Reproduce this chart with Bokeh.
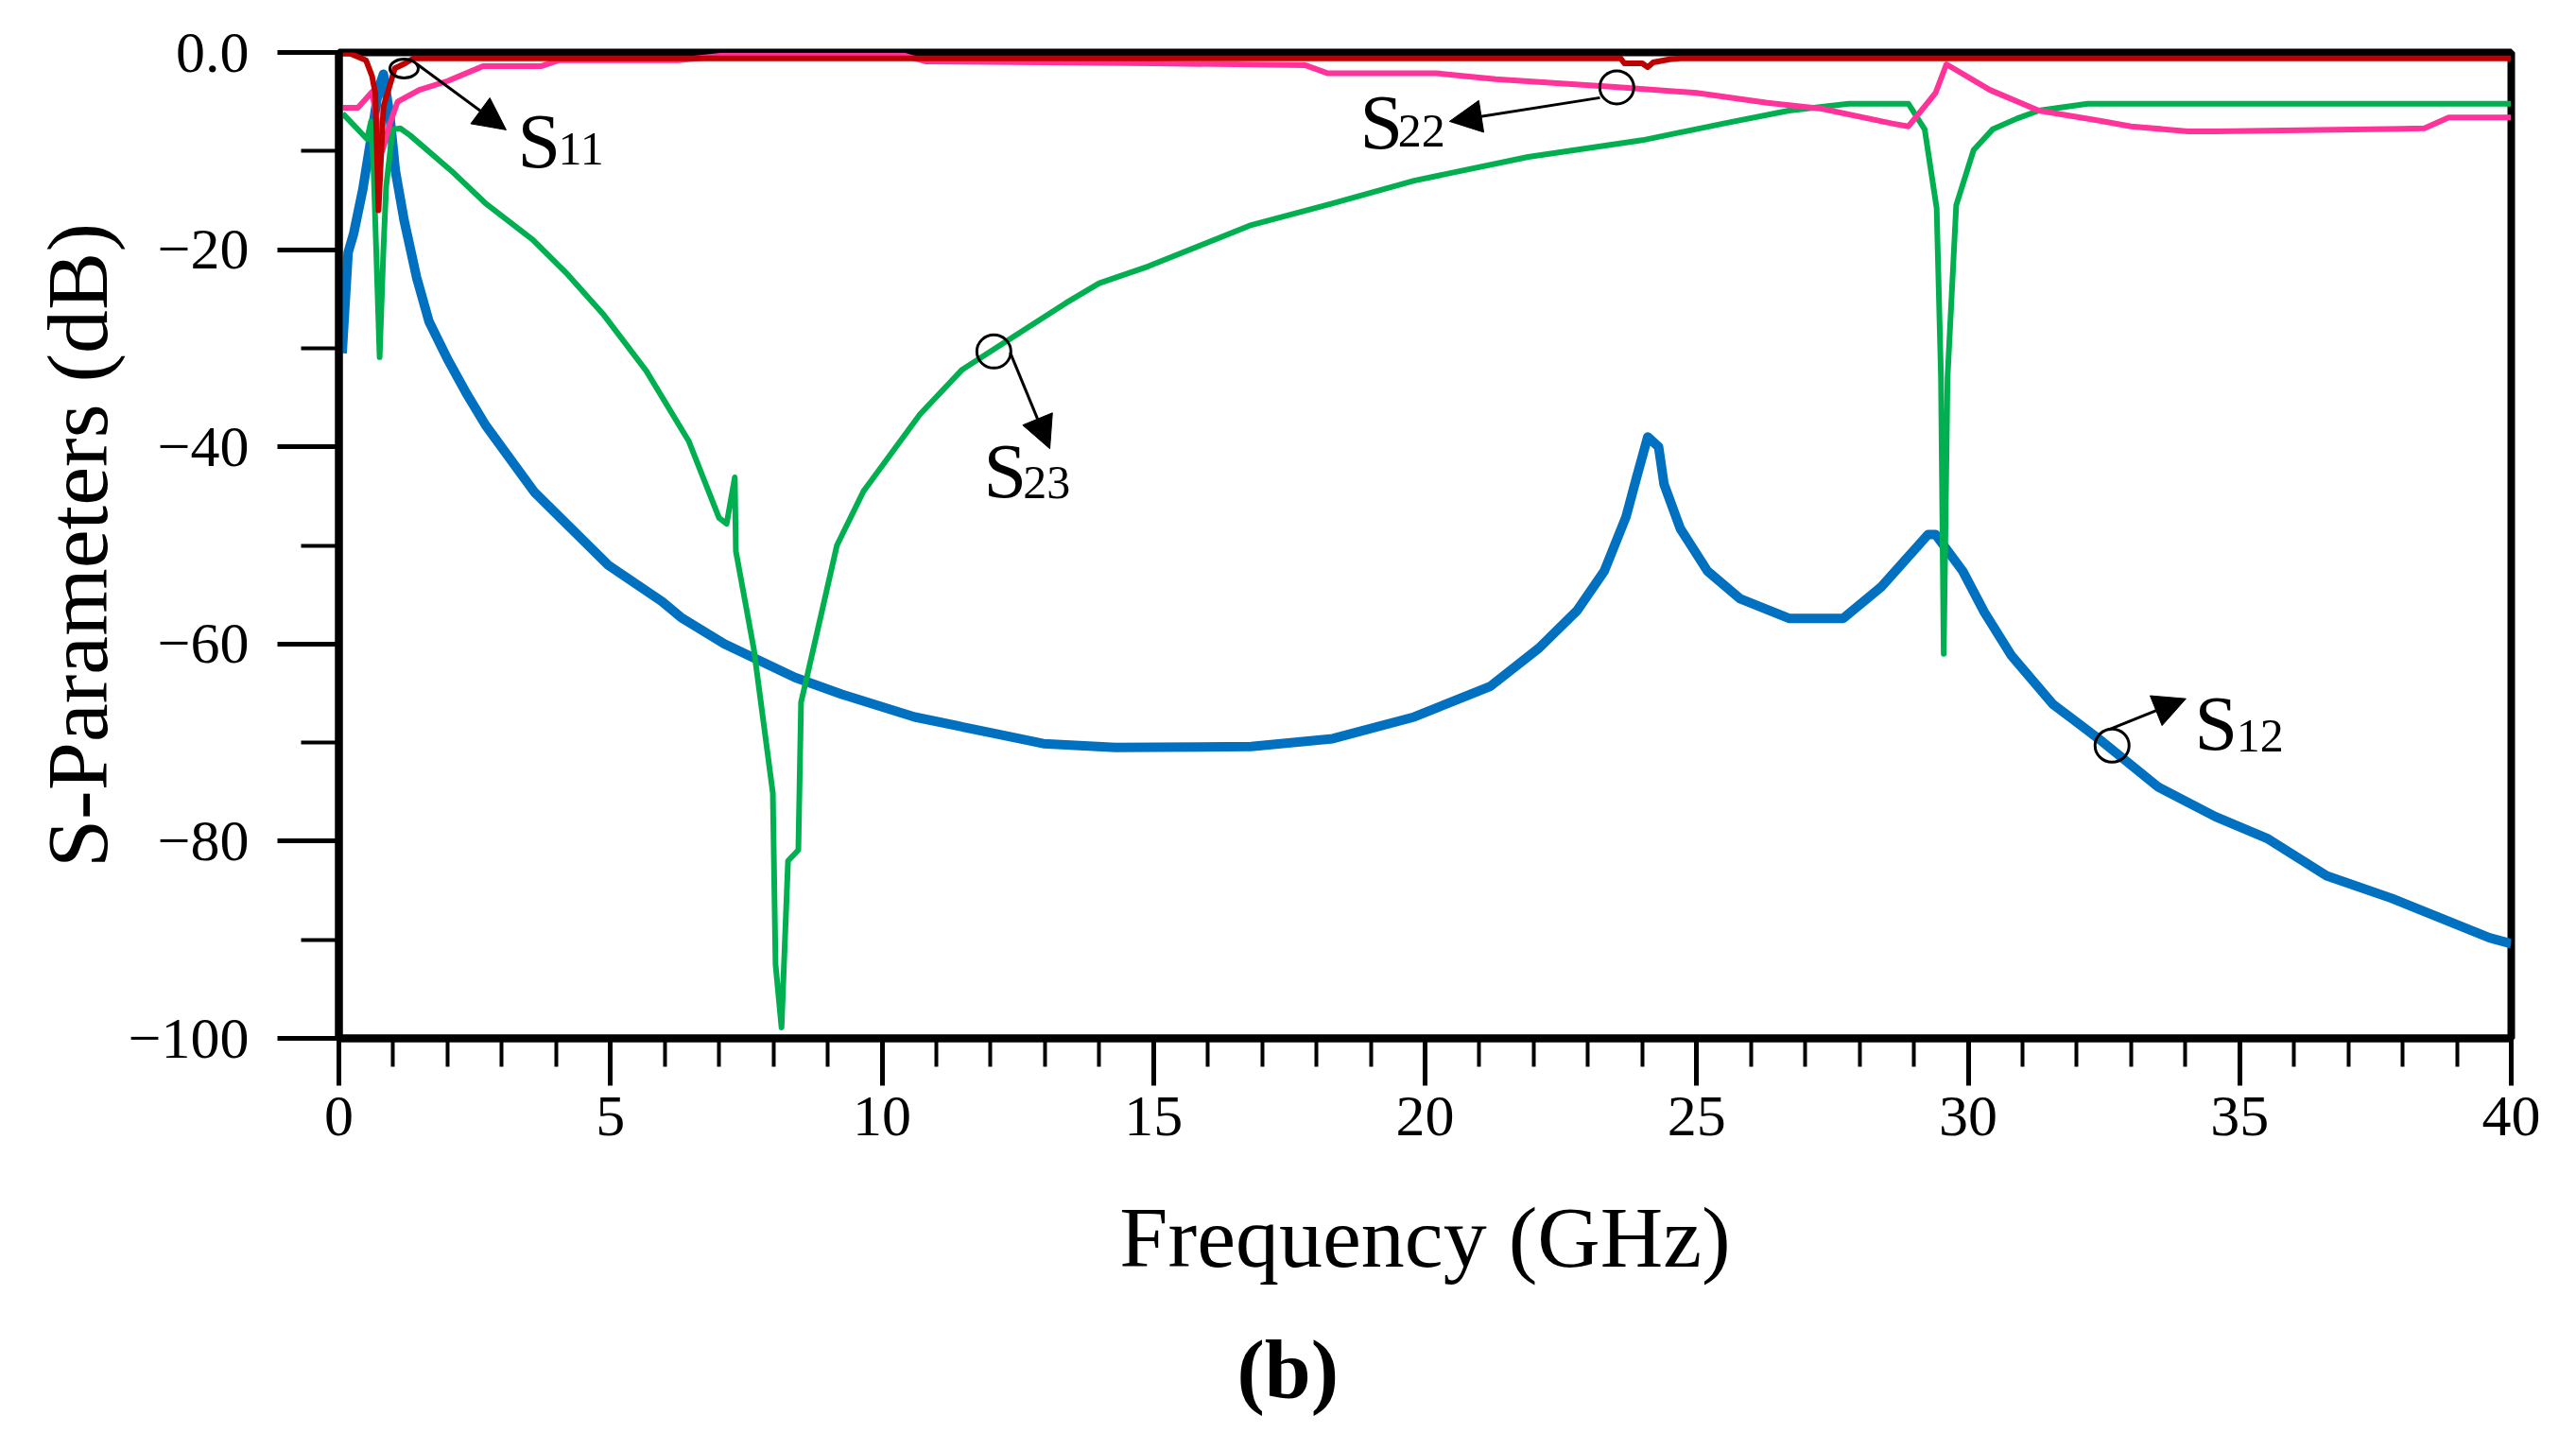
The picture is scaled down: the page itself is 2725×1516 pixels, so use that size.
from bokeh.plotting import figure
from bokeh.models import Range1d, FixedTicker, Label, Arrow, NormalHead, Title
from bokeh.embed import file_html
from bokeh.resources import INLINE

# ---- data ----
s12_freq = [0.06, 0.17, 0.27, 0.44, 0.61, 0.73, 0.82, 0.94, 1.04, 1.2, 1.43, 1.66, 2.0, 2.35, 2.7,
            3.6, 4.96, 5.95, 6.3, 7.1, 8.4, 9.26, 10.6, 12.0, 12.97, 14.3, 16.8, 18.3, 19.8, 21.2,
            22.1, 22.8, 23.3, 23.7, 23.9, 24.1, 24.3, 24.4, 24.7, 25.2, 25.8, 26.7, 27.7, 28.4,
            29.26, 29.4, 29.9, 30.3, 30.8, 31.56, 32.4, 33.5, 34.55, 35.5, 36.6, 37.8, 39.6, 40.0]
s12_db = [-30.5, -20.3, -18.4, -13.9, -8.1, -3.7, -2.2, -6.5, -12.0, -17.0, -22.8, -27.3, -31.1, -34.6, -37.8,
          -44.6, -52.0, -55.7, -57.3, -60.0, -63.4, -65.1, -67.4, -69.0, -70.1, -70.5, -70.4, -69.6, -67.4, -64.3,
          -60.4, -56.6, -52.6, -47.1, -43.0, -39.0, -40.0, -43.8, -48.3, -52.6, -55.4, -57.4, -57.4, -54.2,
          -48.9, -48.9, -52.6, -56.8, -61.2, -66.1, -69.6, -74.5, -77.5, -79.7, -83.5, -85.8, -89.8, -90.4]

s23_freq = [0.07, 0.52, 0.59, 0.64, 0.75, 0.82, 0.87, 0.99, 1.13, 1.31, 2.07, 2.7, 3.57, 4.21, 4.86,
            5.66, 6.44, 7.0, 7.14, 7.29, 7.31, 7.64, 7.99, 8.04, 8.15, 8.27, 8.46, 8.51, 8.62, 9.17,
            9.66, 10.7, 11.47, 12.06, 13.39, 14.0, 14.9, 16.8, 18.3, 19.8, 21.9, 24.0, 25.5, 26.7,
            27.8, 28.9, 29.2, 29.42, 29.5, 29.55, 29.62, 29.78, 30.1, 30.45, 30.9, 31.3, 32.2, 40.0]
s23_db = [-6.2, -8.8, -7.0, -12.0, -30.9, -20.0, -13.6, -7.8, -7.7, -8.4, -12.0, -15.3, -19.0, -22.5, -26.5,
          -32.3, -39.4, -47.2, -47.8, -43.1, -50.6, -60.5, -75.1, -92.5, -98.9, -82.0, -80.9, -65.9, -63.3, -50.0,
          -44.5, -36.7, -32.2, -30.1, -25.4, -23.4, -21.7, -17.5, -15.3, -13.0, -10.6, -8.9, -7.2, -5.9,
          -5.2, -5.2, -7.8, -15.8, -33.0, -61.0, -33.0, -15.5, -9.9, -7.8, -6.7, -5.9, -5.2, -5.2]

s22_freq = [0.07, 0.35, 0.61, 0.8, 0.94, 1.08, 1.48, 2.0, 2.65, 3.72, 4.04, 6.25, 7.1, 10.4, 10.8,
            15.0, 17.8, 18.2, 20.2, 21.3, 23.5, 25.0, 26.3, 27.3, 28.6, 28.9, 29.4, 29.6, 30.4,
            31.3, 32.4, 33.0, 34.05, 34.55, 38.4, 38.85, 40.0]
s22_db = [-5.6, -5.6, -4.0, -10.0, -7.2, -5.0, -3.8, -2.9, -1.4, -1.4, -0.8, -0.8, -0.3, -0.3, -0.9,
          -1.1, -1.3, -2.1, -2.1, -2.7, -3.5, -4.1, -5.1, -5.7, -7.2, -7.5, -4.1, -1.2, -3.8,
          -5.9, -6.9, -7.5, -8.0, -8.0, -7.7, -6.6, -6.6]

s11_freq = [0.07, 0.2, 0.5, 0.61, 0.67, 0.73, 0.82, 0.94, 1.03, 1.22, 1.37, 23.6, 23.67, 24.0, 24.1,
            24.2, 24.5, 24.7, 40.0]
s11_db = [-0.1, -0.1, -0.8, -2.4, -4.1, -16.0, -5.5, -3.3, -1.6, -1.1, -0.6, -0.6, -1.1, -1.1, -1.5,
          -1.0, -0.7, -0.6, -0.6]

x_major = [0, 5, 10, 15, 20, 25, 30, 35, 40]
x_minor = list(range(0, 41))
y_major = [-100, -80, -60, -40, -20, 0]
y_minor = [-90, -70, -50, -30, -10]
y_labels = {-100: "\u2212100", -80: "\u221280", -60: "\u221260", -40: "\u221240", -20: "\u221220", 0: "0.0"}

FONT = "Liberation Serif"

p = figure(width=2709, height=1500, output_backend="svg", toolbar_location=None, title=None,
           x_range=Range1d(0, 40), y_range=Range1d(-100, 0),
           min_border_left=358, min_border_right=53, min_border_top=55, min_border_bottom=400)
p.xgrid.visible = False
p.ygrid.visible = False
p.outline_line_color = "black"
p.outline_line_width = 8

# curves
p.line(s12_freq, s12_db, line_color="#0070C0", line_width=10, line_join="round")
p.line(s23_freq, s23_db, line_color="#00B050", line_width=6, line_join="round")
p.line(s22_freq, s22_db, line_color="#FF3399", line_width=6, line_join="round")
p.line(s11_freq, s11_db, line_color="#C00000", line_width=6, line_join="round")

# axes
for ax in (p.xaxis[0], p.yaxis[0]):
    ax.axis_line_width = 8
    ax.axis_line_color = "black"
    ax.major_tick_line_width = 5
    ax.minor_tick_line_width = 4
    ax.major_tick_in = 0
    ax.minor_tick_in = 0
    ax.major_label_text_font = FONT
    ax.major_label_text_font_size = "62px"
    ax.major_label_text_color = "black"
    ax.axis_label_text_font = FONT
    ax.axis_label_text_font_size = "92px"
    ax.axis_label_text_font_style = "normal"
    ax.axis_label_text_color = "black"

p.xaxis.ticker = FixedTicker(ticks=x_major, minor_ticks=x_minor)
p.xaxis.major_tick_out = 50
p.xaxis.minor_tick_out = 30
p.xaxis.major_label_standoff = 12
p.xaxis.axis_label = "Frequency (GHz)"
p.xaxis.axis_label_standoff = 54

p.yaxis.ticker = FixedTicker(ticks=y_major, minor_ticks=y_minor)
p.yaxis.major_label_overrides = y_labels
p.yaxis.major_tick_out = 65
p.yaxis.minor_tick_out = 40
p.yaxis.major_label_standoff = 30
p.yaxis.axis_label = "S-Parameters (dB)"
p.yaxis.axis_label_standoff = 0

# spacer + panel caption below the axis
p.add_layout(Title(text="\u00a0", text_font=FONT, text_font_size="28px", text_color="white",
                   align="left", standoff=0), "below")
p.add_layout(Title(text="(b)", text_font=FONT, text_font_size="88px", text_font_style="bold",
                   text_color="black", align="left", offset=950, standoff=6), "below")

# annotation markers (circles) and arrows
p.ellipse(x=[1.20], y=[-1.63], width=30, height=20, width_units="screen", height_units="screen",
          fill_color=None, line_color="black", line_width=3)
p.ellipse(x=[23.53, 12.06, 32.65], y=[-3.54, -30.33, -70.3], width=36, height=35,
          width_units="screen", height_units="screen", fill_color=None, line_color="black", line_width=3)

def arrow(x0, y0, x1, y1):
    p.add_layout(Arrow(end=NormalHead(size=34, fill_color="black", line_color="black"),
                       x_start=x0, y_start=y0, x_end=x1, y_end=y1,
                       line_color="black", line_width=3))

arrow(1.43, -1.15, 3.08, -7.85)      # S11
arrow(23.22, -4.59, 20.45, -6.99)    # S22
arrow(12.36, -30.43, 13.09, -40.19)  # S23
arrow(32.58, -68.7, 34.01, -65.55)   # S12

def slabel(xs, ys, xsub, ysub, sub):
    p.add_layout(Label(x=xs, y=ys, text="S", text_font=FONT, text_font_size="82px",
                       text_color="black", text_baseline="alphabetic", text_align="left"))
    p.add_layout(Label(x=xsub, y=ysub, text=sub, text_font=FONT, text_font_size="50px",
                       text_color="black", text_baseline="alphabetic", text_align="left"))

slabel(3.29, -9.0, 4.04, -9.75, "11")
slabel(18.8, -7.07, 19.5, -8.0, "22")
slabel(11.87, -42.48, 12.6, -43.62, "23")
slabel(34.17, -68.07, 34.94, -69.33, "12")

open("out.html", "w").write(file_html(p, INLINE))
